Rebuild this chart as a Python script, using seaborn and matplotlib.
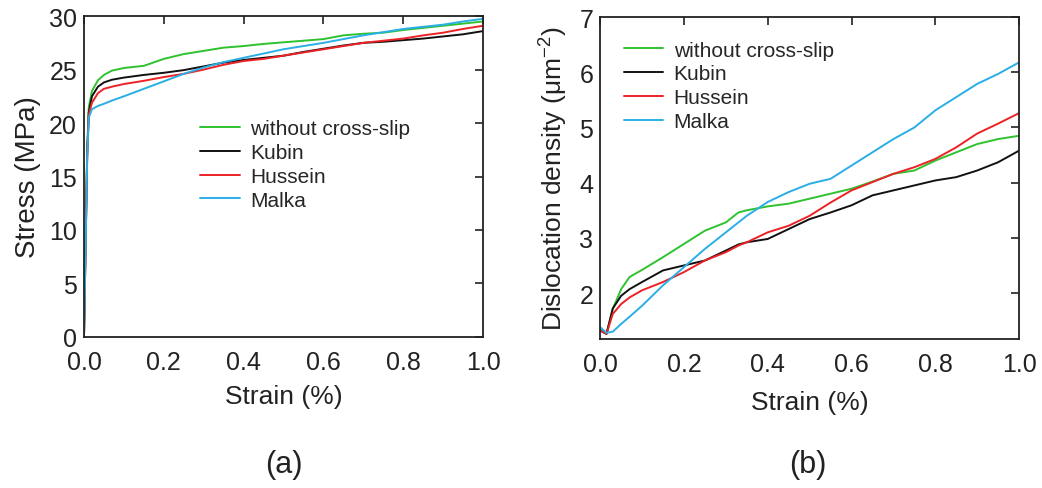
import matplotlib
matplotlib.use("Agg")
import matplotlib.pyplot as plt
import seaborn as sns
import pandas as pd

sns.set_theme(style="white")
plt.rcParams["font.family"] = ["Liberation Sans", "DejaVu Sans"]
plt.rcParams["mathtext.default"] = "regular"

series_names = ["without cross-slip", "Kubin", "Hussein", "Malka"]
series_colors = ["#2fc22f", "#111111", "#ec2226", "#2aaee6"]

# (a) stress-strain curves
stress_strain = [0.0, 0.004, 0.008, 0.012, 0.02, 0.035, 0.05, 0.07, 0.1, 0.15, 0.2, 0.25, 0.3, 0.35,
                 0.4, 0.45, 0.5, 0.55, 0.6, 0.65, 0.7, 0.75, 0.8, 0.85, 0.9, 0.95, 1.0]
stress_values = {
    "without cross-slip": [0.0, 9.0, 17.5, 21.5, 23.0, 24.0, 24.5, 24.9, 25.15, 25.35, 26.0, 26.45, 26.75, 27.05,
                           27.2, 27.4, 27.55, 27.7, 27.85, 28.2, 28.35, 28.45, 28.7, 28.9, 29.1, 29.3, 29.5],
    "Kubin": [0.0, 8.5, 17.0, 21.0, 22.5, 23.4, 23.8, 24.05, 24.25, 24.5, 24.7, 24.95, 25.3, 25.65,
              25.9, 26.1, 26.3, 26.65, 26.95, 27.25, 27.5, 27.6, 27.75, 27.9, 28.1, 28.3, 28.6],
    "Hussein": [0.0, 8.5, 17.0, 20.8, 21.9, 22.8, 23.2, 23.4, 23.65, 23.95, 24.3, 24.6, 25.0, 25.45,
                25.8, 26.0, 26.3, 26.6, 26.9, 27.2, 27.5, 27.7, 27.9, 28.2, 28.45, 28.8, 29.1],
    "Malka": [0.0, 8.0, 16.5, 20.5, 21.3, 21.6, 21.8, 22.1, 22.5, 23.2, 23.9, 24.6, 25.2, 25.7,
              26.1, 26.5, 26.9, 27.2, 27.5, 27.85, 28.2, 28.5, 28.8, 29.0, 29.2, 29.5, 29.75],
}

# (b) dislocation density curves
density_strain = [0.0, 0.015, 0.03, 0.05, 0.07, 0.1, 0.15, 0.2, 0.25, 0.3, 0.33, 0.35, 0.4, 0.45, 0.5,
                  0.55, 0.6, 0.65, 0.7, 0.75, 0.8, 0.85, 0.9, 0.95, 1.0]
density_values = {
    "without cross-slip": [1.35, 1.26, 1.71, 2.07, 2.29, 2.42, 2.65, 2.89, 3.13, 3.28, 3.46, 3.5, 3.57, 3.62,
                           3.71, 3.8, 3.89, 4.02, 4.16, 4.22, 4.4, 4.55, 4.7, 4.79, 4.85],
    "Kubin": [1.32, 1.26, 1.72, 1.95, 2.07, 2.2, 2.41, 2.5, 2.59, 2.77, 2.88, 2.92, 2.98, 3.16,
              3.34, 3.46, 3.59, 3.77, 3.86, 3.95, 4.04, 4.1, 4.22, 4.37, 4.58],
    "Hussein": [1.32, 1.26, 1.62, 1.8, 1.92, 2.05, 2.2, 2.38, 2.59, 2.74, 2.86, 2.92, 3.1, 3.22,
                3.4, 3.64, 3.86, 4.01, 4.16, 4.28, 4.43, 4.64, 4.89, 5.07, 5.26],
    "Malka": [1.38, 1.28, 1.3, 1.44, 1.57, 1.77, 2.14, 2.47, 2.8, 3.1, 3.28, 3.4, 3.65, 3.83,
              3.98, 4.07, 4.31, 4.55, 4.79, 5.0, 5.31, 5.55, 5.79, 5.97, 6.18],
}

x_ticks = [0.0, 0.2, 0.4, 0.6, 0.8, 1.0]
x_tick_labels = ["0.0", "0.2", "0.4", "0.6", "0.8", "1.0"]
stress_ticks = [0, 5, 10, 15, 20, 25, 30]
density_ticks = [2, 3, 4, 5, 6, 7]

stress_df = pd.concat(
    [pd.DataFrame({"strain": stress_strain, "value": stress_values[n], "model": n}) for n in series_names],
    ignore_index=True,
)
density_df = pd.concat(
    [pd.DataFrame({"strain": density_strain, "value": density_values[n], "model": n}) for n in series_names],
    ignore_index=True,
)
palette = dict(zip(series_names, series_colors))

ink = "#222222"
fig = plt.figure(figsize=(10.42, 4.89), dpi=100)
ax_a = fig.add_axes([0.0806, 0.309, 0.383, 0.656])
ax_b = fig.add_axes([0.576, 0.305, 0.402, 0.658])

for ax, df in ((ax_a, stress_df), (ax_b, density_df)):
    sns.lineplot(data=df, x="strain", y="value", hue="model", hue_order=series_names,
                 palette=palette, estimator=None, sort=False, linewidth=1.4, ax=ax)
    ax.set_xlim(0, 1.0)
    ax.set_xticks(x_ticks)
    ax.set_xticklabels(x_tick_labels)
    ax.tick_params(direction="in", length=6, width=1.2, top=True, right=True,
                   labelsize=18, colors=ink)
    ax.tick_params(axis="x", pad=9.5)
    ax.tick_params(axis="y", pad=5)
    for s in ax.spines.values():
        s.set_color(ink)
        s.set_linewidth(1.3)

ax_a.set_xlabel("Strain (%)", fontsize=19, labelpad=7, color=ink)
ax_b.set_xlabel("Strain (%)", fontsize=19, labelpad=10, color=ink)

ax_a.set_ylim(0, 30)
ax_a.set_yticks(stress_ticks)
ax_a.set_ylabel("Stress (MPa)", fontsize=20, labelpad=6, color=ink)
ax_a.legend(loc="upper left", bbox_to_anchor=(0.27, 0.704), frameon=False, fontsize=15,
            handlelength=1.9, handletextpad=0.5, labelspacing=0.23, borderaxespad=0)

ax_b.set_ylim(1.17, 7)
ax_b.set_yticks(density_ticks)
ax_b.set_ylabel("Dislocation density (μm$^{-2}$)", fontsize=19, labelpad=7, color=ink)
ax_b.legend(loc="upper left", bbox_to_anchor=(0.036, 0.953), frameon=False, fontsize=15,
            handlelength=1.9, handletextpad=0.5, labelspacing=0.23, borderaxespad=0)

fig.text(0.272, 0.049, "(a)", ha="center", va="center", fontsize=22, color=ink)
fig.text(0.775, 0.049, "(b)", ha="center", va="center", fontsize=22, color=ink)

fig.savefig("out.png", dpi=100)
